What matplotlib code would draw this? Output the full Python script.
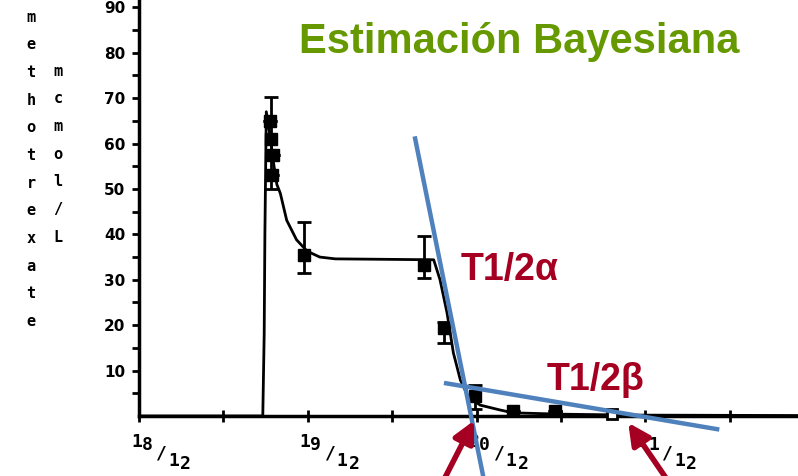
import matplotlib
matplotlib.use("Agg")
import matplotlib.pyplot as plt
import numpy as np

# fitted curve (hours since 18/12 00:00, mcmol/L)
fit_h = [0, 17.6, 17.8, 17.9, 18.1, 18.6, 19.2, 19.6, 20.1, 21.0, 22.4, 23.9, 25.7,
         27.9, 35.0, 41.9, 42.8, 43.8, 44.7, 45.7, 46.8, 48.5, 51.4, 53.2, 60.0, 70.0, 93.7]
fit_c = [0, 0, 18, 40, 67, 62, 55, 51, 49, 43.1, 38.8, 36.3, 35.0,
         34.6, 34.5, 34.4, 30, 22.7, 13.9, 7.9, 4.3, 2.4, 1.3, 0.7, 0.4, 0.2, 0.1]

# observed levels
obs_h = [18.6, 18.8, 19.0, 18.9, 23.4, 40.5, 43.3, 47.8, 53.2, 59.2]
obs_c = [65, 61, 57.5, 53, 35.5, 33.3, 19.4, 4.3, 1.0, 1.0]
err_lo = [0, 11, 0, 0, 4.0, 2.9, 3.3, 2.8, 0, 0]
err_hi = [0, 9.3, 0, 0, 7.3, 6.3, 1.4, 2.5, 0, 0]
open_h, open_c = [67.2], [0.4]

# half-life lines and arrows
alpha_line = ([39.26, 48.93], [61.1, -13.2])
beta_line = ([43.67, 82.2], [7.2, -2.9])
arrows = [((47.65, -1.0), (43.2, -14.5)), ((69.56, -1.5), (75.3, -14.5))]

tick_h = [0, 12, 24, 36, 48, 60, 72, 84]
day_h = [0, 24, 48, 72]
day_labels = ["18/12", "19/12", "20/12", "21/12"]
ylab_left = "methotrexate"
ylab_right = "mcmol/L"

blue = "#4f81bd"
red = "#a50021"
green = "#669900"
mono = "DejaVu Sans Mono"

fig = plt.figure(figsize=(7.98, 4.76), dpi=100)
ax = fig.add_axes([139 / 798, 60 / 476, 659 / 798, 416 / 476])
ax.set_xlim(0, 93.7)
ax.set_ylim(0, 91.6)

ax.plot(fit_h, fit_c, color="black", lw=2, zorder=3)
ax.errorbar(obs_h, obs_c, yerr=[err_lo, err_hi], fmt="s", color="black", ms=8,
            ecolor="black", elinewidth=2, capsize=5, capthick=2, zorder=4)
ax.plot(open_h, open_c, "s", ms=7, mfc="white", mec="black", mew=2, zorder=4, clip_on=False)

ax.plot(*alpha_line, color=blue, lw=3.2, clip_on=False, zorder=5)
ax.plot(*beta_line, color=blue, lw=3.2, clip_on=False, zorder=5)
for tip, tail in arrows:
    ax.annotate("", xy=tip, xytext=tail, annotation_clip=False,
                arrowprops=dict(arrowstyle="-|>", color=red, lw=4, mutation_scale=32,
                                shrinkA=0, shrinkB=0), zorder=6)

ax.text(45.7, 30.0, "T1/2α", color=red, fontsize=27, fontweight="bold",
        family="Liberation Sans", va="baseline")
ax.text(58.0, 5.7, "T1/2β", color=red, fontsize=27, fontweight="bold",
        family="Liberation Sans", va="baseline")

# axes styling
for s in ["top", "right"]:
    ax.spines[s].set_visible(False)
ax.spines["left"].set_linewidth(2.5)
ax.spines["bottom"].set_linewidth(2.5)
ax.set_yticks(range(10, 100, 10))
ax.set_yticks(range(5, 95, 10), minor=True)
ax.tick_params(axis="y", which="both", direction="out", length=5, width=2, pad=5)
ax.set_yticklabels([str(v) for v in range(10, 100, 10)], fontsize=11,
                   fontweight="bold", family="DejaVu Sans")
ax.set_xticks(tick_h)
ax.set_xticklabels([])
ax.tick_params(axis="x", direction="inout", length=9, width=2)

# stair-step date labels
char_dx = [-2.5, 8, 22.5, 34.5, 46.5]
char_dy = [26, 29.5, 38, 45, 48]
for h, lab in zip(day_h, day_labels):
    for ch, dx, dy in zip(lab, char_dx, char_dy):
        ax.annotate(ch, xy=(h, 0), xycoords=("data", "axes fraction"),
                    xytext=(dx * 0.72, -dy * 0.72), textcoords="offset points",
                    ha="center", va="center", fontsize=13, fontweight="bold",
                    family=mono, annotation_clip=False)

# stacked y-axis label
for i, ch in enumerate(ylab_left):
    fig.text(31 / 798, 1 - (17 + 27.7 * i) / 476, ch, ha="center", va="center",
             fontsize=11, fontweight="bold", family=mono)
for i, ch in enumerate(ylab_right):
    fig.text(58 / 798, 1 - (71 + 27.7 * i) / 476, ch, ha="center", va="center",
             fontsize=11, fontweight="bold", family=mono)

fig.text(299 / 798, 1 - 53 / 476, "Estimación Bayesiana", color=green,
         fontsize=30, fontweight="bold", family="Liberation Sans", va="baseline")

fig.savefig("out.png", dpi=100)
